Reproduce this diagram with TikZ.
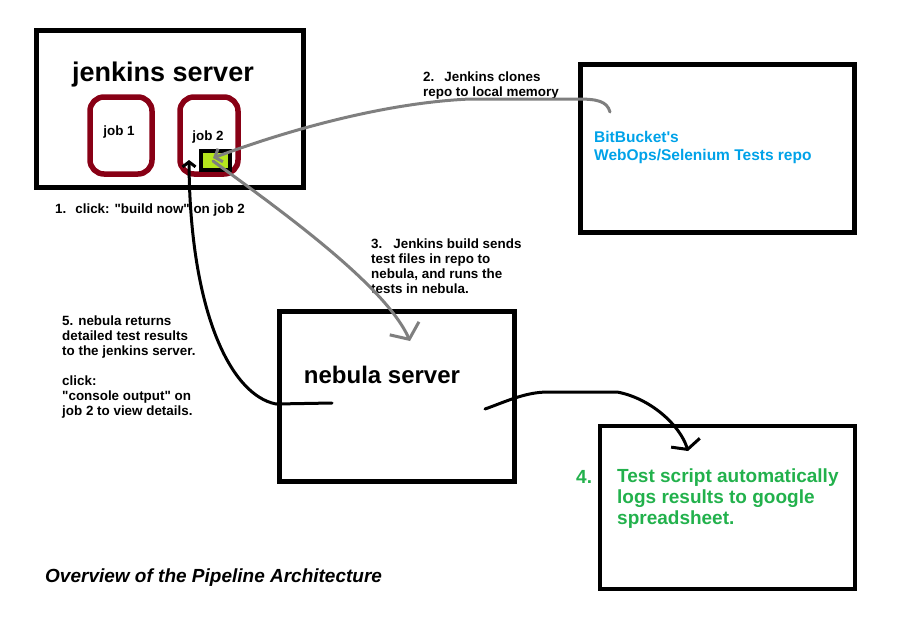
\documentclass[tikz,border=0pt]{standalone}
\usepackage{fontspec}
\setmainfont{Liberation Sans}
\usetikzlibrary{arrows.meta}
\definecolor{jobred}{HTML}{880015}
\definecolor{buildlime}{HTML}{B5E61D}
\definecolor{repoblue}{HTML}{00A2E8}
\definecolor{sheetgreen}{HTML}{22B14C}
\definecolor{clonegray}{HTML}{7F7F7F}
\begin{document}
\begin{tikzpicture}[x=1pt,y=-1pt,
  server/.style={draw,line width=5pt,inner sep=0pt},
  jobbox/.style={draw=jobred,line width=5.5pt,rounded corners=14pt,minimum height=77pt,inner sep=0pt},
  stepnote/.style={font=\fontsize{13.4}{15}\selectfont\bfseries,inner sep=0pt,align=left},
  grayline/.style={draw=clonegray,line width=3pt,line cap=round,line join=round},
  blackline/.style={draw=black,line width=3pt,line cap=round,line join=round}]
\useasboundingbox (0,0) rectangle (902,632);
\node[server,minimum width=267pt,minimum height=157pt] (jenkins) at (170,109) {};
\node[font=\fontsize{27}{31}\selectfont\bfseries,anchor=base,inner sep=0pt] (jenkinsTitle) at (163,81) {jenkins server};
\node[jobbox,minimum width=62pt] (job1) at (121,135.5) {};
\node[jobbox,minimum width=58pt] (job2) at (209,135.5) {};
\node[stepnote,anchor=base] (job1Text) at (119,135) {job 1};
\node[stepnote,anchor=base] (job2Text) at (208,140) {job 2};
\node[draw,line width=4pt,fill=buildlime,minimum width=29pt,minimum height=19pt,inner sep=0pt] (build) at (215.5,160.5) {};
\node[server,minimum width=274pt,minimum height=168pt] (bitbucket) at (717.5,148.5) {};
\node[font=\fontsize{15.5}{18}\selectfont\bfseries,text=repoblue,align=left,anchor=north west,inner sep=0pt] (repoText) at (594,130.7) {BitBucket\textquotesingle s\\WebOps/Selenium Tests repo};
\node[server,minimum width=235pt,minimum height=170pt] (nebula) at (397,396.5) {};
\node[font=\fontsize{24}{28}\selectfont\bfseries,anchor=base,inner sep=0pt] (nebulaTitle) at (382,383) {nebula server};
\node[draw,line width=4pt,minimum width=255pt,minimum height=163pt,inner sep=0pt] (sheet) at (727.5,507.5) {};
\node[font=\fontsize{19}{21}\selectfont\bfseries,text=sheetgreen,anchor=base west,inner sep=0pt] (step4) at (576,483) {4.};
\node[font=\fontsize{19}{21}\selectfont\bfseries,text=sheetgreen,align=left,anchor=north west,inner sep=0pt] (sheetText) at (617,469) {Test script automatically\\logs results to google\\spreadsheet.};
\node[stepnote,anchor=base west] (step1) at (55,213) {1.\hspace{9pt}click: \textquotedbl build now\textquotedbl{} on job 2};
\node[stepnote,anchor=north west] (step2) at (423,71.5) {2.\hspace{10pt}Jenkins clones\\repo to local memory};
\node[stepnote,anchor=north west] (step3) at (371,238.5) {3.\hspace{11pt}Jenkins build sends\\test files in repo to\\nebula, and runs the\\tests in nebula.};
\node[stepnote,anchor=north west] (step5) at (62,315.5) {5. nebula returns\\detailed test results\\to the jenkins server.\\[15pt]click:\\\textquotedbl console output\textquotedbl{} on\\job 2 to view details.};
\node[font=\fontsize{19}{22}\selectfont\bfseries\itshape,anchor=base west,inner sep=0pt] (caption) at (45,582) {Overview of the Pipeline Architecture};
\coordinate (repoOut) at (610,112);
\coordinate (buildIn) at (213,158);
\coordinate (buildOut) at (213,161);
\coordinate (nebulaIn) at (410,341);
\coordinate (resultOut) at (332,403);
\coordinate (resultBend) at (276,404);
\coordinate (jobIn) at (189,160);
\coordinate (logOut) at (485,409);
\coordinate (logIn) at (688,451);
\draw[grayline,-{Straight Barb[length=6pt,width=14pt]}] (repoOut) .. controls (607,101) and (597,99) .. (577,99) -- (470,99) .. controls (380,103) and (280,133) .. (buildIn);
\draw[grayline,-{Straight Barb[length=12pt,width=32pt]}] (buildOut) .. controls (280,210) and (385,285) .. (nebulaIn);
\draw[blackline,-{Straight Barb[length=5pt,width=13pt]}] (resultOut) -- (resultBend) .. controls (230,395) and (190,310) .. (jobIn);
\draw[blackline,-{Straight Barb[length=7pt,width=30pt]}] (logOut) .. controls (505,402) and (525,392) .. (548,392) -- (617,392) .. controls (650,398) and (680,425) .. (logIn);
\end{tikzpicture}
\end{document}
